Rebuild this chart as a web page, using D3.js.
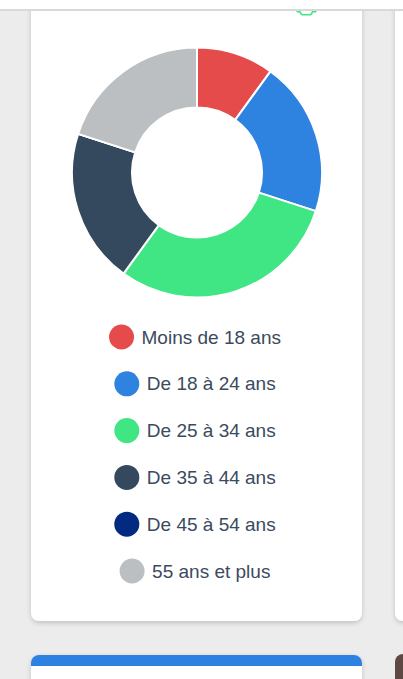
<!DOCTYPE html>
<html><head><meta charset="utf-8">
<script src="https://cdn.jsdelivr.net/npm/d3@7"></script>
<style>html,body{margin:0;padding:0;background:#ececec;overflow:hidden}svg{display:block}</style>
</head><body>
<svg id="c" width="403" height="679"></svg>
<script>
const categories = ["Moins de 18 ans","De 18 à 24 ans","De 25 à 34 ans","De 35 à 44 ans","De 45 à 54 ans","55 ans et plus"];
const values = [10, 20, 30, 20, 0, 20];
const colors = ["#e54b4b","#2e83e0","#40e584","#34495e","#012a80","#bbbfc1"];

const svg = d3.select("#c");
const defs = svg.append("defs");
const f = defs.append("filter").attr("id","sh").attr("x","-10%").attr("y","-10%").attr("width","120%").attr("height","120%");
f.append("feDropShadow").attr("dx",0).attr("dy",2).attr("stdDeviation",2.5).attr("flood-color","#000").attr("flood-opacity",0.18);

svg.append("rect").attr("width",403).attr("height",679).attr("fill","#ececec");

// cards
svg.append("rect").attr("x",31).attr("y",-30).attr("width",331).attr("height",651).attr("rx",8).attr("fill","#fff").attr("filter","url(#sh)");
svg.append("rect").attr("x",395).attr("y",-30).attr("width",200).attr("height",651).attr("rx",8).attr("fill","#fff").attr("filter","url(#sh)");
defs.append("clipPath").attr("id","c2").append("rect").attr("x",31).attr("y",655).attr("width",331).attr("height",100).attr("rx",8);
const g2 = svg.append("g");
g2.append("rect").attr("x",31).attr("y",655).attr("width",331).attr("height",100).attr("rx",8).attr("fill","#fff").attr("filter","url(#sh)");
g2.append("rect").attr("x",31).attr("y",655).attr("width",331).attr("height",11).attr("fill","#2c82e0").attr("clip-path","url(#c2)");
svg.append("rect").attr("x",395).attr("y",654).attr("width",200).attr("height",100).attr("rx",8).attr("fill","#5d4843");

// header
svg.append("rect").attr("x",0).attr("y",0).attr("width",403).attr("height",9).attr("fill","#fff");
svg.append("rect").attr("x",0).attr("y",9).attr("width",403).attr("height",2).attr("fill","#d9d9db");
svg.append("path").attr("d","M296.5,11.7 L300,11.7 Q301,14.7 302.5,14.7 L310,14.7 Q311.5,14.7 312.5,11.7 L316.5,11.7")
  .attr("fill","none").attr("stroke","#40e584").attr("stroke-width",1.6);

// donut
const cx = 197, cy = 172.5;
const pie = d3.pie().sort(null).value(d => d)(values);
const arc = d3.arc().innerRadius(65).outerRadius(125);
svg.append("g").attr("transform",`translate(${cx},${cy})`)
  .selectAll("path").data(pie).join("path")
  .attr("d", arc).attr("fill",(d,i)=>colors[i])
  .attr("stroke","#fff").attr("stroke-width",2).attr("stroke-linejoin","round");

// legend
const lg = svg.append("g");
const rowY = d3.scaleLinear().domain([0,5]).range([337,571]);
categories.forEach((c,i)=>{
  const row = lg.append("g");
  const t = row.append("text").text(c)
    .attr("font-family","'Liberation Sans', Arial, sans-serif").attr("font-size",19)
    .attr("fill","#3b4a5e").attr("dominant-baseline","central").attr("y",rowY(i));
  const w = t.node().getComputedTextLength();
  const r = 12.5, gap = 7.5;
  const total = 2*r + gap + w;
  const x0 = 195 - total/2;
  row.append("circle").attr("cx",x0+r).attr("cy",rowY(i)).attr("r",r).attr("fill",colors[i]);
  t.attr("x", x0 + 2*r + gap);
});
</script>
</body></html>
